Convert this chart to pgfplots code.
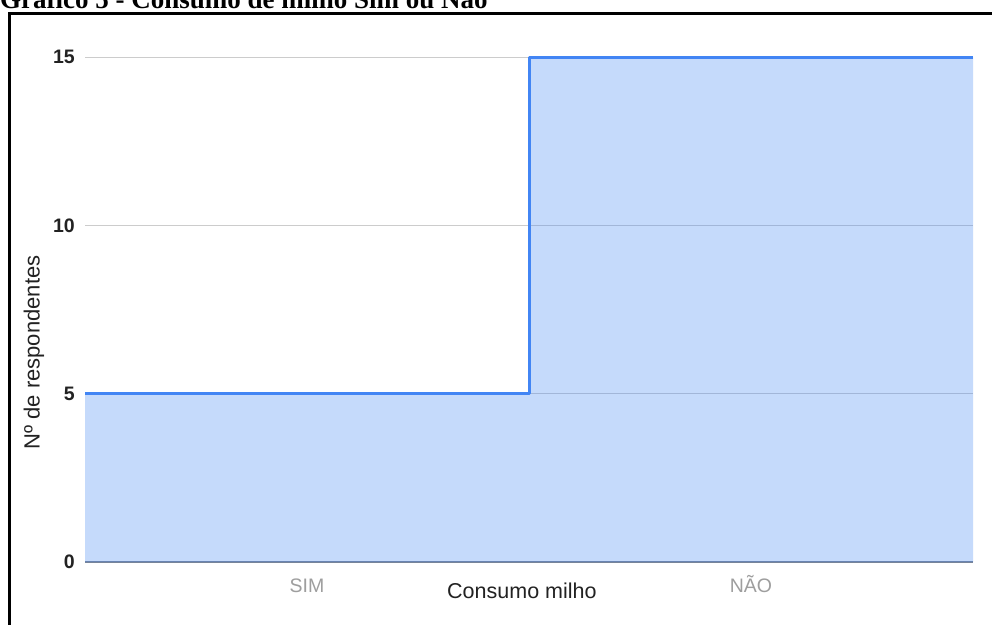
\documentclass[border=0pt]{standalone}
\usepackage{pgfplots}
\pgfplotsset{compat=1.18}
\usepackage{fontspec}
\setmainfont{Liberation Sans}
\newfontfamily\titlefont{Liberation Serif}
\definecolor{gblue}{HTML}{4285F4}
\definecolor{gridc}{HTML}{CCCCCC}
\definecolor{basec}{HTML}{7A8496}
\definecolor{ticklab}{HTML}{222222}
\definecolor{xlab}{HTML}{9E9E9E}
\begin{document}
\begin{tikzpicture}
\clip (0pt,0pt) rectangle (992pt,-624pt);
\fill[white] (0pt,0pt) rectangle (992pt,-624pt);
\node[anchor=base west, inner sep=0pt, font=\titlefont\bfseries\fontsize{27}{30}\selectfont] at (0pt,-8pt) {Gráfico 5 - Consumo de milho Sim ou Não};
\draw[line width=3pt, black] (9pt,-700pt) -- (9pt,-13.5pt) -- (1000pt,-13.5pt);
\begin{axis}[
  at={(85pt,-562pt)}, anchor=south west,
  scale only axis, width=888pt, height=505pt,
  xmin=0, xmax=2, ymin=0, ymax=15,
  clip=false,
  axis line style={draw=none},
  major tick length=0pt,
  ytick={5,10,15},
  extra y ticks={0},
  extra y tick style={grid style={color=basec, line width=2.5pt}},
  ymajorgrids,
  grid style={color=gridc, line width=1pt},
  xtick={0.5,1.5},
  xticklabels={SIM,NÃO},
  /pgf/number format/assume math mode=true,
  yticklabel style={font=\bfseries\fontsize{19.5}{22}\selectfont, text=ticklab, anchor=east, inner sep=0pt, xshift=-10pt},
  xticklabel style={font=\fontsize{19.5}{22}\selectfont, text=xlab, anchor=base, inner sep=0pt, yshift=-30pt},
  xlabel={Consumo milho},
  xlabel style={at={(axis description cs:0.492,0)}, anchor=base, inner sep=0pt, yshift=-36pt, font=\fontsize{21.5}{24}\selectfont, text=ticklab},
  ylabel={Nº de respondentes},
  ylabel style={at={(axis description cs:-0.0574,0.415)}, anchor=center, inner sep=0pt, rotate=0, font=\fontsize{22}{24}\selectfont, text=ticklab},
]
\addplot[const plot, draw=none, fill=gblue, fill opacity=0.3] coordinates {(0,5) (1,15) (2,15)} \closedcycle;
\addplot[const plot, gblue, line width=3pt, line join=round] coordinates {(0,5) (1,15) (2,15)};
\end{axis}
\end{tikzpicture}
\end{document}
